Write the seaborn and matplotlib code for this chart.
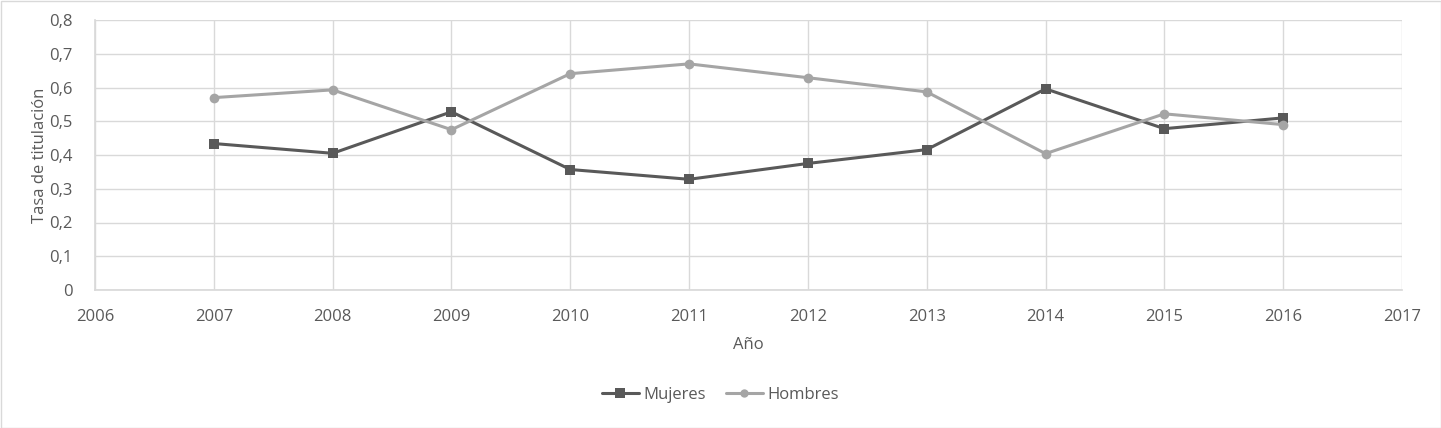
import matplotlib
matplotlib.use("Agg")
import matplotlib.pyplot as plt
import seaborn as sns
import pandas as pd
from matplotlib.patches import Rectangle
from matplotlib.lines import Line2D

years = [2007, 2008, 2009, 2010, 2011, 2012, 2013, 2014, 2015, 2016]
mujeres = [0.434, 0.405, 0.528, 0.357, 0.328, 0.375, 0.416, 0.596, 0.478, 0.510]
hombres = [0.570, 0.593, 0.475, 0.641, 0.670, 0.629, 0.587, 0.404, 0.522, 0.490]
series_names = ["Mujeres", "Hombres"]
colors = {"Mujeres": "#595959", "Hombres": "#A5A5A5"}
markers = {"Mujeres": "s", "Hombres": "o"}

df = pd.DataFrame({
    "Año": years * 2,
    "Tasa": mujeres + hombres,
    "Serie": [series_names[0]] * len(years) + [series_names[1]] * len(years),
})

sns.set_theme(style="white")
plt.rcParams["font.family"] = ["Open Sans", "DejaVu Sans"]

fig = plt.figure(figsize=(14.41, 4.28), dpi=100)
ax = fig.add_axes([95/1441, 1 - 290/428, (1402-95)/1441, (290-20)/428])

sns.lineplot(data=df, x="Año", y="Tasa", hue="Serie", style="Serie",
             palette=colors, markers=markers, dashes=False, linewidth=2.2,
             markersize=7, markeredgewidth=0, ax=ax, legend=False)

ax.set_xlim(2006, 2017)
ax.set_ylim(0, 0.8)
ax.set_xticks(range(2006, 2018))
ax.set_yticks([i / 10 for i in range(9)])
ax.set_yticklabels(["0"] + [f"0,{i}" for i in range(1, 9)])
ax.grid(True, color="#D9D9D9", linewidth=1)
ax.set_axisbelow(True)
for s in ax.spines.values():
    s.set_visible(False)
ax.spines["left"].set_visible(True)
ax.spines["left"].set_color("#D9D9D9")
ax.spines["bottom"].set_visible(True)
ax.spines["bottom"].set_color("#D9D9D9")
ax.tick_params(axis="x", colors="#595959", labelsize=12, length=0, pad=14)
ax.tick_params(axis="y", colors="#595959", labelsize=12, length=0, pad=16)
ax.set_xlabel("Año", color="#595959", fontsize=12, labelpad=8)
ax.set_ylabel("Tasa de titulación", color="#595959", fontsize=12, labelpad=1)

handles = [Line2D([], [], color=colors[n], marker=markers[n], linewidth=2.2,
                  markersize=7 if n == "Mujeres" else 6, markeredgewidth=0) for n in series_names]
fig.legend(handles, series_names, loc="center", bbox_to_anchor=(0.5, 1 - 395/428),
           ncol=2, frameon=False, fontsize=12, labelcolor="#595959",
           handlelength=2.2, columnspacing=1.2, handletextpad=0.3)

fig.patches.append(Rectangle((0.5/1441, 0.5/428), 1 - 1/1441, 1 - 1/428,
                             transform=fig.transFigure, fill=False,
                             edgecolor="#D9D9D9", linewidth=1))

fig.savefig("out.png", dpi=100, facecolor="white")
